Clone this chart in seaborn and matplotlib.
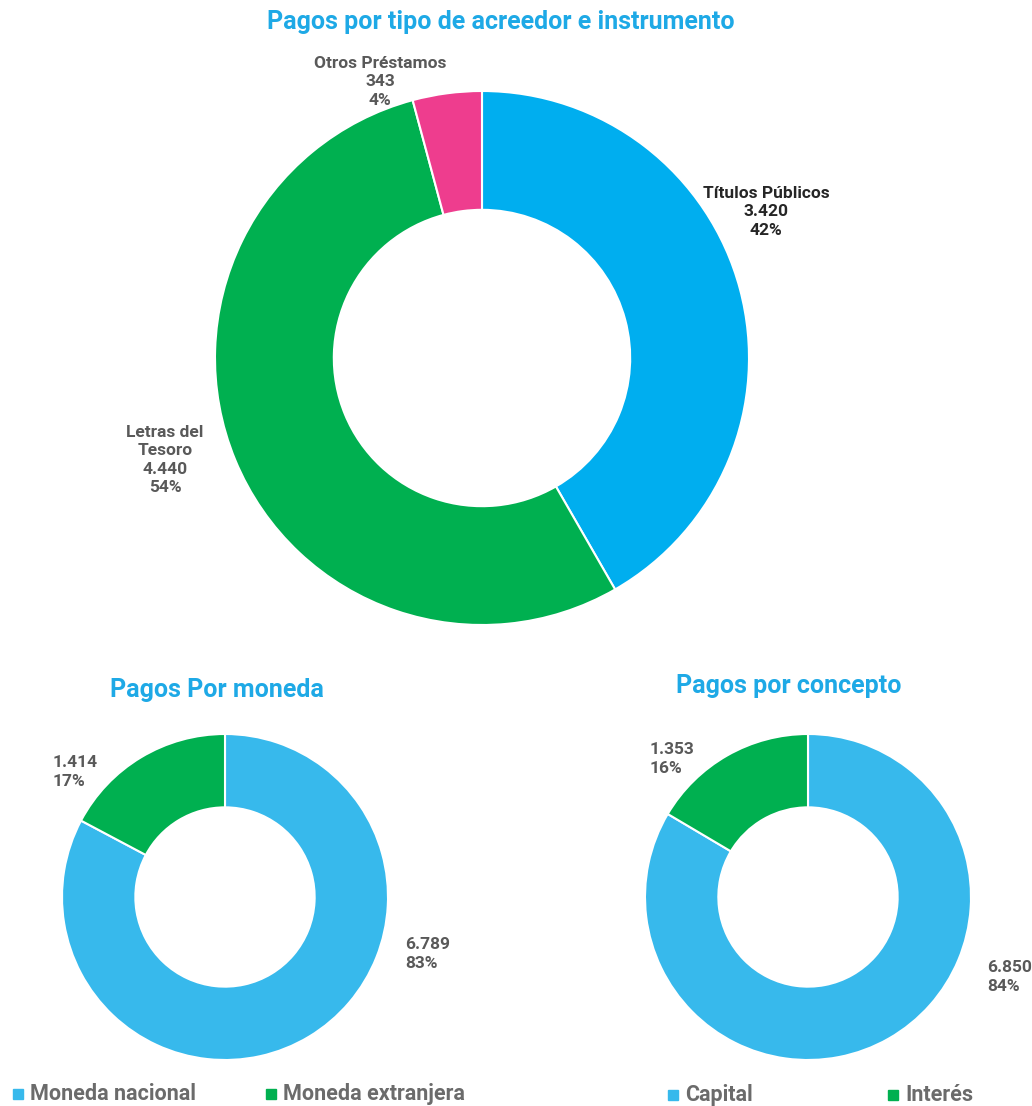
import matplotlib
matplotlib.use("Agg")
import matplotlib.pyplot as plt
import seaborn as sns
from matplotlib.lines import Line2D

sns.set_theme(style="white")
plt.rcParams['font.family'] = ['Roboto', 'DejaVu Sans']

# ---- data ----
inst_labels = ["Títulos Públicos", "Letras del\nTesoro", "Otros Préstamos"]
inst_values = [3420, 4440, 343]
inst_pct = ["42%", "54%", "4%"]

mon_labels = ["Moneda nacional", "Moneda extranjera"]
mon_values = [6789, 1414]
mon_pct = ["83%", "17%"]

con_labels = ["Capital", "Interés"]
con_values = [6850, 1353]
con_pct = ["84%", "16%"]

W, H = 1032, 1106
fig = plt.figure(figsize=(W / 100, H / 100), dpi=100)

BLUE_TOP = "#00AEEF"
GREEN = "#00B050"
PINK = "#EE3D8E"
BLUE = "#37B9EC"
TITLE = "#1EA9E6"
GREY = "#595959"
DARK = "#262626"
LEG = "#6B6B6B"


def fmt(v):
    return f"{v:,}".replace(",", ".")


def px_axes(cx, cy, r):
    return fig.add_axes([(cx - r) / W, (H - cy - r) / H, 2 * r / W, 2 * r / H])


def ftext(x, y, s, **kw):
    fig.text(x / W, 1 - y / H, s, **kw)


def donut(ax, values, colors, width):
    ax.pie(values, colors=colors, startangle=90, counterclock=False, radius=1,
           wedgeprops=dict(width=width, edgecolor="white", linewidth=1.5))
    ax.set_xlim(-1, 1)
    ax.set_ylim(-1, 1)
    ax.set_aspect("auto")
    ax.axis("off")


# ---- top donut ----
ax1 = px_axes(482, 358, 267)
donut(ax1, inst_values, [BLUE_TOP, GREEN, PINK], 0.445)

lab_kw = dict(fontsize=12.5, fontweight="bold", ha="center", va="center", linespacing=1.3)
ftext(766, 212, f"{inst_labels[0]}\n{fmt(inst_values[0])}\n{inst_pct[0]}", color=DARK, **lab_kw)
ftext(165, 460, f"{inst_labels[1]}\n{fmt(inst_values[1])}\n{inst_pct[1]}", color=GREY, **lab_kw)
ftext(380, 82, f"{inst_labels[2]}\n{inst_values[2]}\n{inst_pct[2]}", color=GREY, **lab_kw)

ftext(501, 22, "Pagos por tipo de acreedor e instrumento", fontsize=18,
      fontweight="bold", color=TITLE, ha="center", va="center")

# ---- bottom left donut ----
ax2 = px_axes(225, 897, 163)
donut(ax2, mon_values, [BLUE, GREEN], 0.45)
ftext(217, 690, "Pagos Por moneda", fontsize=18, fontweight="bold",
      color=TITLE, ha="center", va="center")
lab2 = dict(fontsize=12.5, fontweight="bold", ha="left", va="center", color=GREY, linespacing=1.3)
ftext(53, 772, f"{fmt(mon_values[1])}\n{mon_pct[1]}", **lab2)
ftext(405, 954, f"{fmt(mon_values[0])}\n{mon_pct[0]}", **lab2)

# ---- bottom right donut ----
ax3 = px_axes(808, 897, 163)
donut(ax3, con_values, [BLUE, GREEN], 0.45)
ftext(789, 686, "Pagos por concepto", fontsize=18, fontweight="bold",
      color=TITLE, ha="center", va="center")
ftext(650, 759, f"{fmt(con_values[1])}\n{con_pct[1]}", **lab2)
ftext(987, 977, f"{fmt(con_values[0])}\n{con_pct[0]}", **lab2)

# ---- legends ----
def legend_items(x, y, text, color):
    fig.add_artist(Line2D([x / W], [1 - y / H], marker="s", markersize=6.5,
                          color=color, linestyle="none", transform=fig.transFigure))
    ftext(x + 12, y, text, fontsize=15.5, fontweight="bold", color=LEG,
          ha="left", va="center")

legend_items(18, 1094, mon_labels[0], BLUE)
legend_items(271, 1094, mon_labels[1], GREEN)
legend_items(673, 1095, con_labels[0], BLUE)
legend_items(893, 1095, con_labels[1], GREEN)

fig.savefig("out.png", dpi=100, facecolor="white")
